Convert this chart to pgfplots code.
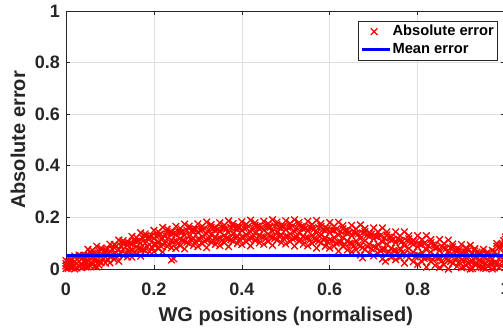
\documentclass[border=0pt]{standalone}
\usepackage{pgfplots}
\pgfplotsset{compat=1.18}
\usepackage{pgfplotstable}
\usepackage{fontspec}
\setmainfont{Liberation Sans}
\definecolor{mgray}{rgb}{0.15,0.15,0.15}
\definecolor{gridgray}{rgb}{0.87,0.87,0.87}

\pgfplotstableread{
x a b c d
0.00 0.002 0.012 0.021 0.033
0.01 0.006 0.019 0.029 0.036
0.02 0.000 0.015 0.028 0.050
0.03 0.012 0.030 0.048 0.054
0.04 0.009 0.029 0.046 0.053
0.05 0.008 0.031 0.050 0.076
0.06 0.018 0.042 0.061 0.073
0.07 0.008 0.032 0.052 0.088
0.08 0.026 0.050 0.074 0.082
0.09 0.023 0.047 0.067 0.075
0.10 0.024 0.048 0.068 0.096
0.11 0.037 0.061 0.082 0.094
0.12 0.030 0.055 0.075 0.112
0.13 0.052 0.077 0.101 0.110
0.14 0.047 0.072 0.094 0.103
0.15 0.046 0.073 0.095 0.126
0.16 0.059 0.086 0.108 0.122
0.17 0.050 0.077 0.100 0.140
0.18 0.072 0.100 0.127 0.136
0.19 0.067 0.095 0.118 0.127
0.20 0.067 0.095 0.118 0.150
0.21 0.078 0.106 0.130 0.144
0.22 0.066 0.095 0.118 0.161
0.23 0.088 0.117 0.145 0.155
0.24 0.082 0.110 0.134 0.143
0.25 0.080 0.108 0.132 0.165
0.26 0.090 0.119 0.143 0.158
0.27 0.078 0.107 0.131 0.174
0.28 0.098 0.128 0.157 0.166
0.29 0.091 0.120 0.144 0.154
0.30 0.087 0.116 0.141 0.175
0.31 0.098 0.127 0.152 0.166
0.32 0.083 0.113 0.137 0.182
0.33 0.104 0.133 0.162 0.172
0.34 0.095 0.124 0.149 0.159
0.35 0.091 0.120 0.145 0.179
0.36 0.102 0.131 0.156 0.170
0.37 0.087 0.117 0.141 0.186
0.38 0.108 0.137 0.166 0.176
0.39 0.099 0.128 0.153 0.163
0.40 0.095 0.124 0.149 0.183
0.41 0.105 0.134 0.159 0.173
0.42 0.090 0.120 0.144 0.189
0.43 0.111 0.140 0.169 0.179
0.44 0.101 0.131 0.155 0.165
0.45 0.096 0.126 0.150 0.185
0.46 0.106 0.136 0.161 0.176
0.47 0.092 0.122 0.146 0.191
0.48 0.112 0.142 0.172 0.182
0.49 0.102 0.132 0.157 0.167
0.50 0.097 0.127 0.152 0.187
0.51 0.106 0.136 0.162 0.177
0.52 0.089 0.120 0.145 0.191
0.53 0.109 0.140 0.170 0.180
0.54 0.096 0.128 0.154 0.164
0.55 0.090 0.122 0.148 0.185
0.56 0.099 0.131 0.157 0.173
0.57 0.081 0.113 0.140 0.188
0.58 0.101 0.133 0.165 0.176
0.59 0.088 0.121 0.148 0.159
0.60 0.081 0.114 0.141 0.180
0.61 0.089 0.122 0.150 0.166
0.62 0.069 0.103 0.131 0.181
0.63 0.089 0.123 0.156 0.168
0.64 0.074 0.109 0.137 0.149
0.65 0.066 0.100 0.129 0.169
0.66 0.074 0.109 0.138 0.156
0.67 0.054 0.089 0.118 0.171
0.68 0.075 0.110 0.145 0.157
0.69 0.060 0.096 0.125 0.137
0.70 0.051 0.087 0.117 0.159
0.71 0.060 0.096 0.126 0.144
0.72 0.039 0.075 0.105 0.159
0.73 0.060 0.096 0.132 0.144
0.74 0.045 0.081 0.111 0.123
0.75 0.036 0.072 0.102 0.144
0.76 0.044 0.080 0.111 0.129
0.77 0.023 0.059 0.090 0.144
0.78 0.043 0.080 0.117 0.129
0.79 0.028 0.065 0.095 0.108
0.80 0.018 0.055 0.086 0.129
0.81 0.028 0.065 0.095 0.114
0.82 0.007 0.044 0.074 0.129
0.83 0.029 0.066 0.102 0.114
0.84 0.014 0.050 0.081 0.093
0.85 0.006 0.042 0.072 0.114
0.86 0.017 0.052 0.081 0.099
0.87 0.000 0.034 0.062 0.112
0.88 0.022 0.054 0.086 0.097
0.89 0.010 0.042 0.068 0.078
0.90 0.005 0.035 0.060 0.095
0.91 0.014 0.043 0.067 0.082
0.92 0.000 0.028 0.051 0.092
0.93 0.018 0.044 0.070 0.079
0.94 0.008 0.034 0.055 0.063
0.95 0.004 0.028 0.048 0.076
0.96 0.011 0.034 0.053 0.065
0.97 0.000 0.022 0.040 0.072
0.98 0.022 0.055 0.088 0.099
0.99 0.013 0.050 0.081 0.094
1.00 0.007 0.046 0.078 0.124
}\errtable

\pgfplotstableread{
x e f
0.005 0.011 0.027
0.015 0.010 0.036
0.025 0.021 0.038
0.035 0.016 0.050
0.045 0.029 0.052
0.055 0.024 0.063
0.065 0.035 0.061
0.075 0.029 0.070
0.085 0.040 0.067
0.095 0.037 0.078
0.105 0.050 0.077
0.115 0.048 0.089
0.125 0.061 0.089
0.135 0.058 0.100
0.145 0.070 0.100
0.155 0.066 0.110
0.165 0.079 0.109
0.175 0.075 0.120
0.185 0.087 0.119
0.195 0.084 0.129
0.205 0.095 0.127
0.215 0.089 0.136
0.225 0.100 0.132
0.235 0.095 0.141
0.245 0.106 0.138
0.255 0.100 0.147
0.265 0.110 0.143
0.275 0.103 0.151
0.285 0.113 0.147
0.295 0.106 0.155
0.305 0.115 0.150
0.315 0.108 0.157
0.325 0.117 0.151
0.335 0.109 0.158
0.345 0.118 0.153
0.355 0.111 0.160
0.365 0.120 0.155
0.375 0.113 0.161
0.385 0.121 0.156
0.395 0.114 0.163
0.405 0.123 0.158
0.415 0.116 0.165
0.425 0.124 0.159
0.435 0.117 0.166
0.445 0.125 0.160
0.455 0.118 0.167
0.465 0.126 0.161
0.475 0.118 0.167
0.485 0.126 0.160
0.495 0.118 0.167
0.505 0.126 0.161
0.515 0.117 0.166
0.525 0.124 0.159
0.535 0.114 0.164
0.545 0.121 0.158
0.555 0.112 0.163
0.565 0.118 0.155
0.575 0.108 0.160
0.585 0.114 0.153
0.595 0.105 0.157
0.605 0.110 0.150
0.615 0.100 0.154
0.625 0.105 0.145
0.635 0.094 0.149
0.645 0.100 0.141
0.655 0.089 0.145
0.665 0.094 0.136
0.675 0.083 0.140
0.685 0.089 0.131
0.695 0.078 0.135
0.705 0.083 0.126
0.715 0.072 0.129
0.725 0.077 0.120
0.735 0.066 0.123
0.745 0.071 0.115
0.755 0.060 0.117
0.765 0.064 0.108
0.775 0.053 0.111
0.785 0.058 0.102
0.795 0.047 0.105
0.805 0.052 0.096
0.815 0.041 0.099
0.825 0.046 0.090
0.835 0.035 0.093
0.845 0.041 0.084
0.855 0.031 0.088
0.865 0.038 0.079
0.875 0.029 0.082
0.885 0.036 0.073
0.895 0.027 0.076
0.905 0.033 0.068
0.915 0.024 0.071
0.925 0.031 0.062
0.935 0.022 0.065
0.945 0.029 0.056
0.955 0.019 0.059
0.965 0.026 0.050
0.975 0.023 0.068
0.985 0.039 0.082
0.995 0.034 0.095
}\halftable

\pgfplotstableread{
x y
0.005 0.002
0.015 0.005
0.025 0.004
0.035 0.005
0.045 0.008
0.055 0.012
0.065 0.010
0.075 0.015
0.240 0.035
0.245 0.040
0.675 0.043
0.727 0.030
0.905 0.008
0.925 0.002
0.945 0.006
0.955 0.002
0.975 0.004
0.985 0.006
0.996 0.110
0.998 0.020
0.997 0.060
0.999 0.100
1.000 0.115
}\extratable

\begin{document}
\begin{tikzpicture}
\begin{axis}[
  at={(66pt,59pt)}, anchor=south west,
  scale only axis, width=439.5pt, height=258pt,
  xmin=0, xmax=1, ymin=0, ymax=1,
  clip=false, clip marker paths=true,
  axis line style={mgray, line width=0.8pt},
  xtick={0,0.2,0.4,0.6,0.8,1},
  xticklabels={0,0.2,0.4,0.6,0.8,1},
  ytick={0,0.2,0.4,0.6,0.8,1},
  yticklabels={0,0.2,0.4,0.6,0.8,1},
  tick align=inside, tick pos=both,
  major tick length=4.4pt,
  every tick/.style={mgray, line width=0.6pt},
  grid=major,
  major grid style={gridgray, line width=0.6pt},
  tick label style={font=\fontsize{18}{20}\selectfont\bfseries, text=mgray},
  xticklabel style={anchor=north, inner sep=0pt, yshift=-13.3pt},
  yticklabel style={anchor=east, inner sep=0pt, xshift=-6pt},
  xlabel={WG positions (normalised)},
  ylabel={Absolute error},
  label style={font=\fontsize{20}{22}\selectfont\bfseries, text=mgray},
  xlabel style={at={(axis description cs:0.5,-0.2016)}, anchor=base},
  ylabel style={at={(axis description cs:-0.1092,0.5)}, anchor=center, rotate=0},
  legend style={at={(axis description cs:0.981,0.961)}, anchor=north east,
    draw=mgray, line width=0.6pt, fill=white,
    font=\fontsize{14.7}{17}\selectfont\bfseries,
    inner xsep=2pt, inner ysep=2.5pt,
    nodes={inner sep=1pt, text height=10.5pt, text depth=3pt},
    row sep=2.5pt},
  legend cell align=left,
  legend image code/.code={\draw[mark repeat=2,mark phase=2,#1] plot coordinates {(0pt,0pt) (12pt,0pt) (28pt,0pt)};},
  errmark/.style={only marks, mark=x, mark size=4.7pt, red, line width=1.3pt},
]
\addplot[errmark] table[x=x,y=a] {\errtable};
\addlegendentry{Absolute error}
\addplot[errmark, forget plot] table[x=x,y=b] {\errtable};
\addplot[errmark, forget plot] table[x=x,y=c] {\errtable};
\addplot[errmark, forget plot] table[x=x,y=d] {\errtable};
\addplot[errmark, forget plot] table[x=x,y=e] {\halftable};
\addplot[errmark, forget plot] table[x=x,y=f] {\halftable};
\addplot[errmark, forget plot] table[x=x,y=y] {\extratable};
\addplot[blue, line width=2.8pt, no marks] coordinates {(0,0.053) (1,0.053)};
\addlegendentry{Mean error}
\end{axis}
\pgfresetboundingbox
\useasboundingbox (0,0) rectangle (503pt,328pt);
\end{tikzpicture}
\end{document}
